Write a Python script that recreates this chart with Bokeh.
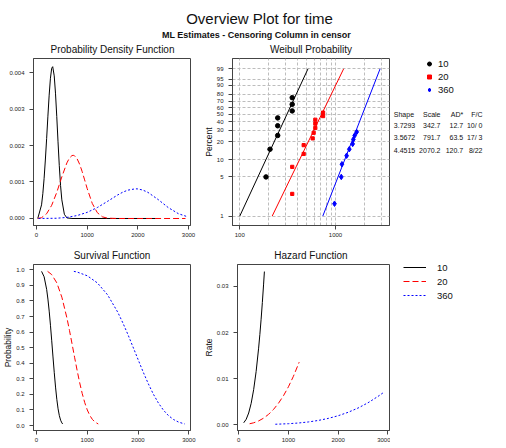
import numpy as np
from bokeh.plotting import figure
from bokeh.layouts import row, column
from bokeh.models import (Range1d, FixedTicker, NumeralTickFormatter, Legend, LegendItem)
from bokeh.embed import file_html
from bokeh.resources import INLINE
from bokeh.core.properties import value

FONT = "Liberation Sans"

# ---------------- data ----------------
groups = ["10", "20", "360"]

# Weibull ML estimates table
shape = [3.7293, 3.5672, 4.4515]
scale = [342.7, 791.7, 2070.2]
ad_star = [12.7, 63.5, 120.7]
fail_cens = ["10/ 0", "17/ 3", "8/22"]

# probability plot points (time, percent)
prob_t_10 = [188, 207, 249, 249, 249, 353, 353, 353]
prob_pct_10 = [5, 15, 25, 35, 45, 55, 65, 75]
prob_t_20 = [353, 353, 465, 465, 577, 591, 615, 615, 615, 741, 741]
prob_pct_20 = [2.5, 7.5, 12.5, 17.5, 22.5, 27.5, 32.5, 37.5, 42.5, 47.5, 52.5]
prob_t_360 = [976, 1148, 1166, 1306, 1393, 1510, 1535, 1585, 1663]
prob_pct_360 = [1.67, 5.0, 8.33, 11.67, 15.0, 18.33, 21.67, 25.0, 28.33]

# fitted lines: times at 1 % and 99 %
fit_pct = [1, 99]
fit_t_lo = [100, 218, 736]
fit_t_hi = [516, 1216, 2920]

weib_pct_ticks = [1, 5, 10, 20, 30, 40, 50, 60, 70, 80, 90, 95, 99]
weib_x_ticks = [100, 1000]
weib_x_grid = [100, 200, 300, 400, 500, 600, 700, 800, 900, 1000, 2000, 3000]

# probability density function
pdf_t_10 = [25, 100, 125, 150, 175, 200, 225, 250, 275, 300, 320, 350, 375, 400, 425,
            450, 475, 500, 550, 600, 700, 1000, 1500, 2000, 2350]
pdf_10 = [0, 0.000374, 0.000678, 0.001090, 0.001602, 0.002188, 0.002803, 0.003380,
          0.003844, 0.004118, 0.004160, 0.003908, 0.003434, 0.002798, 0.002101,
          0.001447, 0.000904, 0.000510, 0.000115, 0.000016, 0, 0, 0, 0, 0]
pdf_t_20 = [25, 100, 200, 300, 400, 500, 600, 650, 700, 725, 750, 800, 850, 900, 950,
            1000, 1100, 1200, 1300, 1400, 1600, 2000, 2500, 2940]
pdf_20 = [0, 0.000022, 0.000131, 0.000362, 0.000715, 0.001141, 0.001524, 0.001656,
          0.001724, 0.001731, 0.001719, 0.001640, 0.001491, 0.001290, 0.001058,
          0.000822, 0.000414, 0.000160, 0.000046, 0.000009, 0, 0, 0, 0]
pdf_t_360 = [40, 400, 600, 800, 1000, 1200, 1400, 1600, 1700, 1800, 1950, 2000, 2100,
             2200, 2400, 2600, 2800, 2975]
pdf_360 = [0, 0.000007, 0.000030, 0.000080, 0.000168, 0.000300, 0.000468, 0.000643,
           0.000719, 0.000776, 0.000813, 0.000810, 0.000778, 0.000715, 0.000520,
           0.000299, 0.000132, 0.000050]

# survival function
surv_t_10 = [100, 150, 200, 225, 250, 275, 300, 325, 350, 375, 400, 425, 450, 475, 500, 516]
surv_10 = [0.9899, 0.9552, 0.8744, 0.8120, 0.7346, 0.6439, 0.5440, 0.4402, 0.3390,
           0.2468, 0.1686, 0.1073, 0.0632, 0.0341, 0.0167, 0.0100]
surv_t_20 = [218, 300, 400, 500, 600, 650, 700, 750, 800, 850, 900, 950, 1000, 1050,
             1100, 1150, 1216]
surv_20 = [0.9900, 0.9691, 0.9162, 0.8236, 0.6894, 0.6096, 0.5249, 0.4385, 0.3542,
           0.2757, 0.2060, 0.1471, 0.1002, 0.0647, 0.0395, 0.0226, 0.0099]
surv_t_360 = [736, 800, 1000, 1200, 1400, 1600, 1700, 1800, 1950, 2000, 2100, 2200,
              2300, 2400, 2500, 2600, 2700, 2800, 2920]
surv_360 = [0.9900, 0.9856, 0.9616, 0.9155, 0.8392, 0.7279, 0.6596, 0.5848, 0.4648,
            0.4241, 0.3445, 0.2696, 0.2023, 0.1451, 0.0987, 0.0634, 0.0383, 0.0216, 0.0100]

# hazard function
haz_t_10 = [100, 150, 200, 250, 300, 350, 400, 425, 450, 475, 500, 516]
haz_10 = [0.000377, 0.001141, 0.002502, 0.004600, 0.007569, 0.011527, 0.016595,
          0.019590, 0.022886, 0.026530, 0.030517, 0.033245]
haz_t_20 = [218, 300, 400, 500, 600, 700, 800, 900, 1000, 1100, 1216]
haz_20 = [0.000164, 0.000373, 0.000781, 0.001385, 0.002211, 0.003285, 0.004628,
          0.006263, 0.008208, 0.010483, 0.013556]
haz_t_360 = [736, 1000, 1200, 1400, 1600, 1800, 2000, 2200, 2400, 2600, 2800, 2920]
haz_360 = [0.000061, 0.000174, 0.000327, 0.000557, 0.000884, 0.001327, 0.001909,
           0.002652, 0.003582, 0.004722, 0.006098, 0.007013]

lin_x_ticks = [0, 1000, 2000, 3000]
pdf_y_ticks = [0, 0.001, 0.002, 0.003, 0.004]
surv_y_ticks = [0, 0.1, 0.2, 0.3, 0.4, 0.5, 0.6, 0.7, 0.8, 0.9, 1.0]
haz_y_ticks = [0, 0.01, 0.02, 0.03]

main_title = "Overview Plot for time"
sub_title = "ML Estimates - Censoring Column in censor"
panel_titles = ["Probability Density Function", "Weibull Probability",
                "Survival Function", "Hazard Function"]
table_heads = ["Shape", "Scale", "AD*", "F/C"]

# ---------------- styles ----------------
COLORS = ["#000000", "#ff0000", "#0000ff"]
DASHES = ["solid", "6 3", "2 2"]
MARKERS = ["circle", "square", "diamond"]
MSIZES = [4.5, 3.2, 5.5]
FRAME = "#444444"
TXT = "#111111"


def weib_y(pct):
    p = np.asarray(pct, dtype=float) / 100.0
    return np.log(-np.log(1.0 - p))


def blank_fig(w, h, xr, yr):
    f = figure(width=w, height=h, x_range=xr, y_range=yr, output_backend="svg",
               toolbar_location=None, min_border=0, min_border_left=0,
               min_border_top=0, min_border_right=0, min_border_bottom=0,
               x_axis_location=None, y_axis_location=None)
    f.grid.visible = False
    f.outline_line_color = None
    return f


def base_fig(w, h, xr, yr, left, right, top, bottom, x_log=False):
    kw = dict(width=w, height=h, x_range=xr, y_range=yr, output_backend="svg",
              toolbar_location=None, min_border_left=left, min_border_right=right,
              min_border_top=top, min_border_bottom=bottom)
    if x_log:
        kw["x_axis_type"] = "log"
    p = figure(**kw)
    p.outline_line_color = FRAME
    p.outline_line_width = 1
    for ax in (p.xaxis[0], p.yaxis[0]):
        ax.axis_line_color = FRAME
        ax.major_tick_line_color = FRAME
        ax.major_tick_out = 4
        ax.major_tick_in = 0
        ax.minor_tick_line_color = None
        ax.major_label_text_font = FONT
        ax.major_label_text_font_size = "6px"
        ax.major_label_text_color = "#222222"
        ax.axis_label_text_font = FONT
        ax.axis_label_text_font_style = "normal"
        ax.axis_label_text_font_size = "8.5px"
        ax.axis_label_text_color = TXT
    p.xaxis[0].major_label_standoff = 3
    p.yaxis[0].major_label_standoff = 5
    p.yaxis[0].axis_label_standoff = 0
    p.xgrid.grid_line_color = None
    p.ygrid.grid_line_color = None
    return p


def strip(h, titles, xs, base_y):
    s = blank_fig(390, h, Range1d(0, 390), Range1d(h, 0))
    s.text(x=xs, y=[base_y] * len(titles), text=titles, text_font=value(FONT),
           text_font_size="10px", text_align="center", text_baseline="alphabetic",
           text_color=TXT)
    return s


def side_legend(items, margin, glyph_w, glyph_h, standoff, label_w):
    return Legend(items=items, location="top_center", margin=margin, padding=0,
                  spacing=0, glyph_width=glyph_w, glyph_height=glyph_h,
                  label_height=glyph_h, label_width=label_w, label_standoff=standoff,
                  border_line_color=None, background_fill_alpha=0,
                  inactive_fill_alpha=0, label_text_font=FONT,
                  label_text_font_size="9.5px", label_text_color=TXT)


# ---------------- header (page y 0..40) ----------------
hdr = blank_fig(506, 40, Range1d(0, 506), Range1d(40, 0))
hdr.text(x=[259], y=[18], text=[main_title], text_font=value(FONT),
         text_font_size="15px", text_align="center", text_baseline="alphabetic",
         text_color=TXT)
hdr.text(x=[256], y=[34], text=[sub_title], text_font=value(FONT), text_font_size="9px",
         text_font_style="bold", text_align="center", text_baseline="alphabetic",
         text_color=TXT)

# ---------------- row 1 (page y 40..240) ----------------
strip1 = strip(17, panel_titles[:2], [112, 310.5], 9.4)

p1 = base_fig(200, 183, Range1d(-59, 3039), Range1d(-0.000192, 0.004384), 33, 10, 1, 15)
pdf_sets = [(pdf_t_10, pdf_10), (pdf_t_20, pdf_20), (pdf_t_360, pdf_360)]
for (t, f), c, d in zip(pdf_sets, COLORS, DASHES):
    p1.line(t, f, line_color=c, line_dash=d, line_width=1)
p1.xaxis.ticker = FixedTicker(ticks=lin_x_ticks)
p1.yaxis.ticker = FixedTicker(ticks=pdf_y_ticks)
p1.yaxis.formatter = NumeralTickFormatter(format="0.000")

p2 = base_fig(190, 183, Range1d(84, 3660), Range1d(-4.99, 1.955), 32, 1, 1, 15, x_log=True)
p2.yaxis.axis_label = "Percent"
p2.xaxis.ticker = FixedTicker(ticks=weib_x_ticks)
p2.xaxis.formatter = NumeralTickFormatter(format="0")
ytk = [float(v) for v in weib_y(weib_pct_ticks)]
p2.yaxis.ticker = FixedTicker(ticks=ytk)
p2.yaxis.major_label_overrides = {v: str(pct) for v, pct in zip(ytk, weib_pct_ticks)}
p2.xgrid.ticker = FixedTicker(ticks=weib_x_grid)
p2.ygrid.ticker = FixedTicker(ticks=ytk)
for g in (p2.xgrid[0], p2.ygrid[0]):
    g.grid_line_color = "#bdbdbd"
    g.grid_line_dash = "3 2"
    g.grid_line_width = 1
fit_y = [float(v) for v in weib_y(fit_pct)]
for lo, hi, c in zip(fit_t_lo, fit_t_hi, COLORS):
    p2.line([lo, hi], fit_y, line_color=c, line_width=1)
prob_sets = [(prob_t_10, prob_pct_10), (prob_t_20, prob_pct_20), (prob_t_360, prob_pct_360)]
for (t, pct), c, m, s in zip(prob_sets, COLORS, MARKERS, MSIZES):
    p2.scatter(t, weib_y(pct), marker=m, size=s, fill_color=c, line_color=c)

# side panel 1 (page x 390..506, y 40..240): symbol legend + estimates table
side1 = blank_fig(116, 200, Range1d(0, 116), Range1d(200, 0))
leg_r = [side1.scatter(t, weib_y(pct), marker=m, size=s, fill_color=c, line_color=c,
                       visible=False)
         for (t, pct), c, m, s in zip(prob_sets, COLORS, MARKERS, MSIZES)]
side1.add_layout(side_legend([LegendItem(label=g, renderers=[r])
                              for g, r in zip(groups, leg_r)],
                             margin=17, glyph_w=10, glyph_h=13, standoff=4, label_w=34))

hdr_y = 73.5
row_y = [84.5 + 12.5 * i for i in range(len(shape))]
col_x = [3.3, 50, 72.7, 92]
aligns = ["left", "right", "right", "right"]
tfont = dict(text_font=value(FONT), text_font_size=value("7px"),
             text_baseline="alphabetic", text_color=TXT)
for hx, htxt, al in zip(col_x, table_heads, aligns):
    side1.text(x=[hx], y=[hdr_y], text=[htxt], text_align=al, **tfont)
cols = [["%.4f" % v for v in shape], ["%.1f" % v for v in scale],
        ["%.1f" % v for v in ad_star], list(fail_cens)]
for cx, vals, al in zip(col_x, cols, aligns):
    side1.text(x=[cx] * len(vals), y=row_y, text=vals, text_align=al, **tfont)

row1 = row(column(strip1, row(p1, p2)), side1)

# ---------------- row 2 (page y 240..448) ----------------
strip2 = strip(23, panel_titles[2:], [111.5, 310.5], 14.5)

p3 = base_fig(200, 185, Range1d(-59, 3033), Range1d(-0.032, 1.034), 33, 10, 1, 18)
p3.yaxis.axis_label = "Probability"
surv_sets = [(surv_t_10, surv_10), (surv_t_20, surv_20), (surv_t_360, surv_360)]
for (t, s), c, d in zip(surv_sets, COLORS, DASHES):
    p3.line(t, s, line_color=c, line_dash=d, line_width=1)
p3.xaxis.ticker = FixedTicker(ticks=lin_x_ticks)
p3.yaxis.ticker = FixedTicker(ticks=surv_y_ticks)
p3.yaxis.formatter = NumeralTickFormatter(format="0.0")

p4 = base_fig(190, 185, Range1d(-25, 3033), Range1d(-0.0013, 0.03478), 32, 1, 1, 18)
p4.yaxis.axis_label = "Rate"
haz_sets = [(haz_t_10, haz_10), (haz_t_20, haz_20), (haz_t_360, haz_360)]
for (t, h), c, d in zip(haz_sets, COLORS, DASHES):
    p4.line(t, h, line_color=c, line_dash=d, line_width=1)
p4.xaxis.ticker = FixedTicker(ticks=lin_x_ticks)
p4.yaxis.ticker = FixedTicker(ticks=haz_y_ticks)
p4.yaxis.formatter = NumeralTickFormatter(format="0.00")

# side panel 2 (page x 390..506, y 240..448): line legend
side2 = blank_fig(116, 208, Range1d(0, 1), Range1d(0, 1))
leg_l = [side2.line(t, h, line_color=c, line_dash=d, line_width=1, visible=False)
         for (t, h), c, d in zip(haz_sets, COLORS, DASHES)]
side2.add_layout(side_legend([LegendItem(label=g, renderers=[r])
                              for g, r in zip(groups, leg_l)],
                             margin=20, glyph_w=23, glyph_h=14, standoff=11, label_w=56))

row2 = row(column(strip2, row(p3, p4)), side2)

layout = column(hdr, row1, row2)
open("out.html", "w").write(file_html(layout, INLINE))
